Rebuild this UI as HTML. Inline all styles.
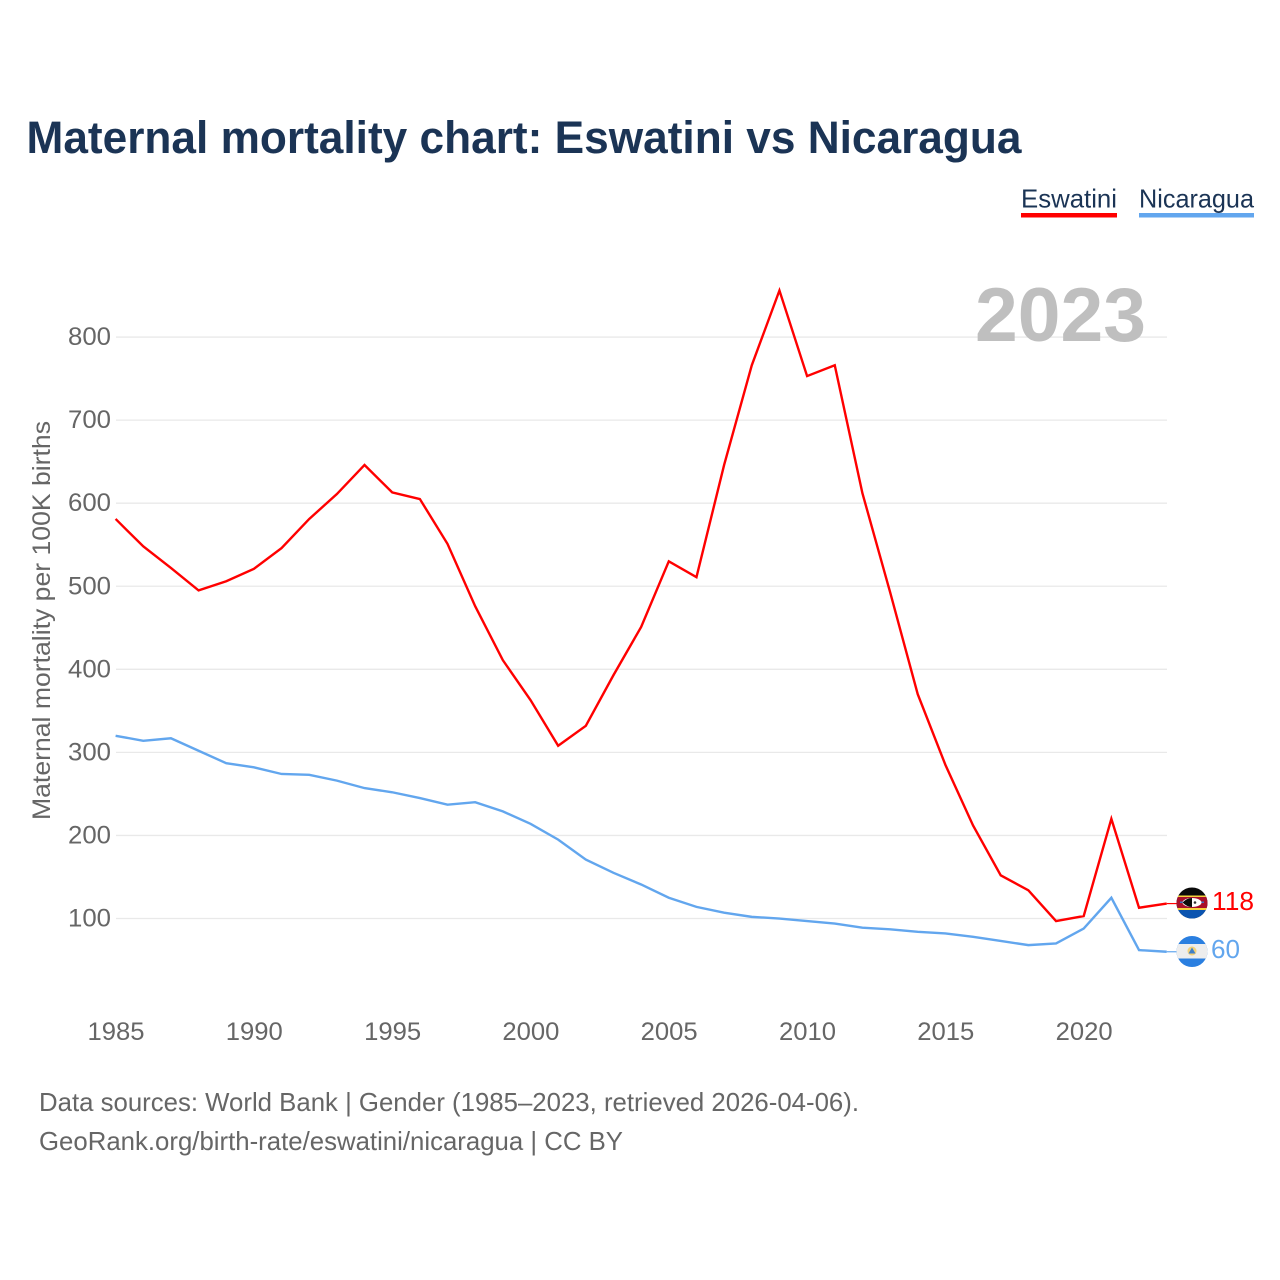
<!DOCTYPE html>
<html lang="en">
<head>
<meta charset="utf-8">
<title>Maternal mortality chart: Eswatini vs Nicaragua</title>
<style>
  html, body { margin: 0; padding: 0; background: #fff; }
  svg { display: block; font-family: "Liberation Sans", sans-serif; }
</style>
</head>
<body>
<svg id="chart" xmlns="http://www.w3.org/2000/svg" width="1280" height="1280" viewBox="0 0 1280 1280">
  <rect width="1280" height="1280" fill="#fff"/>
  <text x="26.5" y="153" font-size="45" font-weight="700" fill="#1b3455" textLength="995" lengthAdjust="spacingAndGlyphs">Maternal mortality chart: Eswatini vs Nicaragua</text>

  <g>
    <text x="1021" y="207.5" font-size="26" fill="#1b3455" textLength="96" lengthAdjust="spacingAndGlyphs">Eswatini</text>
    <rect x="1021" y="213" width="96" height="4.5" fill="#ff0000"/>
  </g>
  <g>
    <text x="1139" y="207.5" font-size="26" fill="#1b3455" textLength="115" lengthAdjust="spacingAndGlyphs">Nicaragua</text>
    <rect x="1139" y="213" width="115" height="4.5" fill="#62a6ee"/>
  </g>

  <g id="grid"></g>
  <text x="975" y="341" font-size="76" font-weight="700" fill="#bfbfbf" textLength="171" lengthAdjust="spacingAndGlyphs">2023</text>
  <g id="yticks"></g>
  <g id="xticks"></g>
  <text transform="translate(50 620.5) rotate(-90)" text-anchor="middle" font-size="25" fill="#666" textLength="399" lengthAdjust="spacingAndGlyphs">Maternal mortality per 100K births</text>
  <g id="series"></g>

  <defs>
    <clipPath id="flag-clip-a"><circle cx="1192" cy="903" r="15.5"/></clipPath>
    <clipPath id="flag-clip-b"><circle cx="1192" cy="951.5" r="15.5"/></clipPath>
  </defs>

  <g clip-path="url(#flag-clip-a)">
    <rect x="1176" y="887" width="32" height="32" fill="#0a0a0a"/>
    <rect x="1176" y="895.5" width="32" height="1.5" fill="#f5d23c"/>
    <rect x="1176" y="897" width="32" height="11" fill="#a80f2b"/>
    <rect x="1176" y="908" width="32" height="2" fill="#f5d23c"/>
    <rect x="1176" y="910" width="32" height="9" fill="#0b54b0"/>
    <rect x="1180" y="901.5" width="24" height="1.5" fill="#3a6fc0"/>
    <ellipse cx="1192" cy="902.5" rx="9.5" ry="4.5" fill="#fff"/>
    <path d="M1182.5 902.5 Q1187 898 1192 898 L1192 907 Q1187 907 1182.5 902.5 Z" fill="#0a0a0a"/>
    <circle cx="1195" cy="902.5" r="1.3" fill="#333"/>
  </g>
  <g clip-path="url(#flag-clip-b)">
    <rect x="1176" y="935" width="32" height="33" fill="#2a7fe0"/>
    <rect x="1176" y="944" width="32" height="14.5" fill="#ededed"/>
    <circle cx="1192" cy="951" r="4.5" fill="#f3d27a"/>
    <path d="M1192 947.5 L1195.5 953.5 L1188.5 953.5 Z" fill="#3f7fc8"/>
  </g>
  <text id="label-eswatini" x="1212" y="910" font-size="26" fill="#ff0000" textLength="42" lengthAdjust="spacingAndGlyphs"></text>
  <text id="label-nicaragua" x="1211" y="958" font-size="26" fill="#62a6ee" textLength="29" lengthAdjust="spacingAndGlyphs"></text>

  <text x="39" y="1111" font-size="26" fill="#666" textLength="820" lengthAdjust="spacingAndGlyphs">Data sources: World Bank | Gender (1985–2023, retrieved 2026-04-06).</text>
  <text x="39" y="1150" font-size="26" fill="#666" textLength="584" lengthAdjust="spacingAndGlyphs">GeoRank.org/birth-rate/eswatini/nicaragua | CC BY</text>
</svg>
<script>
const years = [1985,1986,1987,1988,1989,1990,1991,1992,1993,1994,1995,1996,1997,1998,1999,2000,2001,2002,2003,2004,2005,2006,2007,2008,2009,2010,2011,2012,2013,2014,2015,2016,2017,2018,2019,2020,2021,2022,2023];
const eswatini = [581,548,522,495,506,521,546,581,611,646,613,605,551,476,411,363,308,332,393,451,530,511,646,766,856,753,766,612,493,370,285,212,152,134,97,103,220,113,118];
const nicaragua = [320,314,317,302,287,282,274,273,266,257,252,245,237,240,229,214,195,171,155,141,125,114,107,102,100,97,94,89,87,84,82,78,73,68,70,88,125,62,60];
const yTickValues = [100,200,300,400,500,600,700,800];
const xTickValues = [1985,1990,1995,2000,2005,2010,2015,2020];

const NS = 'http://www.w3.org/2000/svg';
function xScale(year) { return 115.6 + (year - 1985) * 27.66; }
function yScale(value) { return 1001.6 - value * 0.8307; }
function make(tag, parent, attrs, text) {
  const el = document.createElementNS(NS, tag);
  for (const k in attrs) el.setAttribute(k, attrs[k]);
  if (text !== undefined) el.textContent = text;
  parent.appendChild(el);
  return el;
}

const grid = document.getElementById('grid');
const yticks = document.getElementById('yticks');
const xticks = document.getElementById('xticks');
const seriesGroup = document.getElementById('series');

yTickValues.forEach(function (v) {
  const line = make('line', grid, { x1: 116, x2: 1167, y1: yScale(v), y2: yScale(v), stroke: '#e9e9e9', 'stroke-width': 1.3 });
  
  
  const t = make('text', yticks, { x: 111, y: yScale(v) + 8, 'text-anchor': 'end', 'font-size': 25, fill: '#666', textLength: 43, lengthAdjust: 'spacingAndGlyphs' }, String(v));
  
  
});

xTickValues.forEach(function (y) {
  const t = make('text', xticks, { x: xScale(y) + 0.4, y: 1040, 'text-anchor': 'middle', 'font-size': 25, fill: '#666', textLength: 57, lengthAdjust: 'spacingAndGlyphs' }, String(y));
  
  
});

function pathFor(values) {
  return values.map(function (v, i) {
    return (i ? 'L' : 'M') + xScale(years[i]).toFixed(2) + ' ' + yScale(v).toFixed(2);
  }).join(' ');
}

const nicaraguaLine = make('path', seriesGroup, { d: pathFor(nicaragua), fill: 'none', stroke: '#62a6ee', 'stroke-width': 2.4, 'stroke-linejoin': 'miter' });


const eswatiniLine = make('path', seriesGroup, { d: pathFor(eswatini), fill: 'none', stroke: '#ff0000', 'stroke-width': 2.4, 'stroke-linejoin': 'miter' });



const lastE = eswatini[eswatini.length - 1];
const lastN = nicaragua[nicaragua.length - 1];
const leaderE = make('line', seriesGroup, { x1: xScale(2023), x2: 1178, y1: yScale(lastE), y2: yScale(lastE), stroke: '#ff0000', 'stroke-width': 1.2 });


const leaderN = make('line', seriesGroup, { x1: xScale(2023), x2: 1178, y1: yScale(lastN), y2: yScale(lastN), stroke: '#62a6ee', 'stroke-width': 1.2 });



document.getElementById('label-eswatini').textContent = String(lastE);
document.getElementById('label-nicaragua').textContent = String(lastN);
</script>
</body>
</html>
